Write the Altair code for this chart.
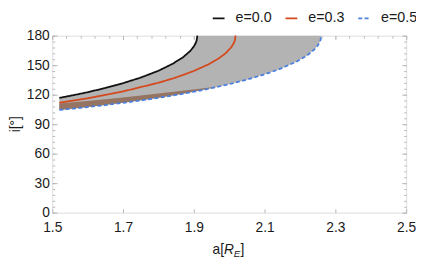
import altair as alt
import pandas as pd

# ---- data ----
black_a = [1.52, 1.56, 1.60, 1.65, 1.70, 1.75, 1.80, 1.84, 1.87, 1.89, 1.90, 1.905, 1.908, 1.91]
black_i = [116.7, 119.5, 122.5, 126.8, 131.7, 137.4, 144.3, 151.4, 158.2, 164.5, 169.0, 172.3, 175.1, 180]

red_a = [1.52, 1.60, 1.70, 1.80, 1.85, 1.90, 1.94, 1.97, 1.99, 2.005, 2.012, 2.016, 2.018]
red_i = [111.8, 116.3, 123.3, 132.1, 137.5, 144.1, 150.6, 156.8, 162.2, 167.9, 171.7, 175.2, 180]

blue_a = [1.52, 1.56, 1.60, 1.65, 1.70, 1.75, 1.80, 1.84, 1.87, 1.90, 1.95, 2.00, 2.05, 2.10,
          2.14, 2.19, 2.22, 2.24, 2.25, 2.256, 2.258, 2.26]
blue_i = [104.5, 105.9, 107.4, 109.4, 111.7, 114.1, 116.8, 119.1, 121.0, 123.0, 126.6, 130.7, 135.3, 140.7,
          145.7, 153.6, 159.9, 165.8, 170.0, 173.6, 175.5, 180]

# shaded region (between e=0.5 curve and e=0.0 curve / top)
fill_a = [1.52, 1.56, 1.60, 1.65, 1.70, 1.75, 1.80, 1.84, 1.87, 1.89, 1.90, 1.905, 1.908, 1.91,
          1.95, 2.00, 2.05, 2.10, 2.14, 2.19, 2.22, 2.24, 2.25, 2.256, 2.258, 2.26]
fill_lo = [104.5, 105.9, 107.4, 109.4, 111.7, 114.1, 116.8, 119.1, 121.0, 122.3, 123.0, 123.4, 123.6, 123.7,
           126.6, 130.7, 135.3, 140.7, 145.7, 153.6, 159.9, 165.8, 170.0, 173.6, 175.5, 180]
fill_hi = [116.7, 119.5, 122.5, 126.8, 131.7, 137.4, 144.3, 151.4, 158.2, 164.5, 169.0, 172.3, 175.1, 180,
           180, 180, 180, 180, 180, 180, 180, 180, 180, 180, 180, 180]

# brownish band above the e=0.5 curve
brown_a = [1.52, 1.60, 1.70, 1.80, 1.88, 1.94, 1.97]
brown_lo = [104.5, 107.4, 111.7, 116.8, 121.7, 125.9, 128.2]
brown_hi = [111.0, 113.5, 117.1, 121.1, 124.5, 127.0, 128.2]

labels = ["e=0.0", "e=0.3", "e=0.5"]
colors = ["#111111", "#d4491d", "#4a7fe0"]
dashes = [[1, 0], [1, 0], [4, 2.5]]

x_ticks = [1.5, 1.7, 1.9, 2.1, 2.3, 2.5]
x_minor = [1.5, 1.54, 1.58, 1.62, 1.66, 1.7, 1.74, 1.78, 1.82, 1.86, 1.9, 1.94, 1.98, 2.02, 2.06,
           2.1, 2.14, 2.18, 2.22, 2.26, 2.3, 2.34, 2.38, 2.42, 2.46, 2.5]
y_ticks = [0, 30, 60, 90, 120, 150, 180]
y_minor = list(range(0, 181, 6))

FONT = "Liberation Sans"
FRAME = "#b8b8b8"
TXT = "#1a1a1a"

fill_df = pd.DataFrame({"a": fill_a, "lo": fill_lo, "hi": fill_hi})
brown_df = pd.DataFrame({"a": brown_a, "lo": brown_lo, "hi": brown_hi})

rows = []
for lab, aa, ii in [("e=0.5", blue_a, blue_i), ("e=0.3", red_a, red_i), ("e=0.0", black_a, black_i)]:
    for k, (x, y) in enumerate(zip(aa, ii)):
        rows.append({"a": x, "i": y, "e": lab, "k": k})
lines_df = pd.DataFrame(rows)

xs = alt.Scale(domain=[1.5, 2.5], nice=False, zero=False)
ys = alt.Scale(domain=[0, 180], nice=False, zero=False)


def ax(orient, values, size, labels_on=False, fmt=None, pad=3):
    kw = dict(orient=orient, values=values, offset=-size, tickSize=size, tickColor=FRAME,
              tickWidth=1, domain=False, grid=False, title=None, labels=labels_on)
    if labels_on:
        kw.update(labelFont=FONT, labelFontSize=14, labelColor=TXT, labelPadding=pad,
                  labelFlush=False, labelOverlap=False, format=fmt)
    return alt.Axis(**kw)


gray = alt.Chart(fill_df).mark_area(color="#b3b3b3", opacity=1).encode(
    x=alt.X("a:Q", scale=xs, axis=ax("bottom", x_ticks, 4, True, ".1f", 8)),
    y=alt.Y("lo:Q", scale=ys, axis=ax("left", y_ticks, 5, True, "d", 3)),
    y2="hi:Q",
)

brown = alt.Chart(brown_df).mark_area(color="#957462", opacity=1).encode(
    x=alt.X("a:Q", scale=xs, axis=ax("top", x_minor, 2.5)),
    y=alt.Y("lo:Q", scale=ys, axis=ax("right", y_minor, 2.5)),
    y2="hi:Q",
)

leg = alt.Legend(orient="none", legendX=162, legendY=-25, direction="horizontal", title=None,
                 symbolType="stroke", symbolSize=144, symbolStrokeWidth=2, labelFont=FONT,
                 labelFontSize=14.5, labelColor=TXT, labelOffset=10, columnPadding=9, padding=0)

lines = alt.Chart(lines_df).mark_line(strokeWidth=1.8).encode(
    x=alt.X("a:Q", scale=xs, axis=ax("top", x_ticks, 4)),
    y=alt.Y("i:Q", scale=ys, axis=ax("left", y_minor, 2.5)),
    order="k:Q",
    color=alt.Color("e:N", scale=alt.Scale(domain=labels, range=colors), legend=leg),
    strokeDash=alt.StrokeDash("e:N", scale=alt.Scale(domain=labels, range=dashes), legend=leg),
)

dummy = alt.Chart(lines_df).mark_point(opacity=0).encode(
    x=alt.X("a:Q", scale=xs, axis=None),
    y=alt.Y("i:Q", scale=ys, axis=ax("right", y_ticks, 4.5)),
)


def txt(s, x, y, size=14, style="normal", angle=0, align="left"):
    return alt.Chart(alt.Data(values=[{"t": s}])).mark_text(
        font=FONT, fontSize=size, fontStyle=style, angle=angle, align=align,
        baseline="alphabetic" if angle == 0 else "middle", color=TXT
    ).encode(x=alt.value(x), y=alt.value(y), text="t:N")


ytitle = txt("i[°]", -37, 90, 14, angle=270, align="center")
xt1 = txt("a[", 163, 222)
xt2 = txt("R", 174.7, 222, style="italic")
xt3 = txt("E", 184.6, 225, size=10, style="italic")
xt4 = txt("]", 191.5, 222)

chart = alt.layer(gray, brown, lines, dummy, ytitle, xt1, xt2, xt3, xt4).resolve_axis(
    x="independent", y="independent"
).properties(
    width=360, height=180,
    autosize=alt.AutoSizeParams(type="none"),
    padding={"left": 45, "top": 26, "right": 10, "bottom": 46},
).configure_view(stroke=FRAME, strokeWidth=1).configure(font=FONT)

chart.save("out.html", embed_options={"renderer": "svg", "actions": False})
